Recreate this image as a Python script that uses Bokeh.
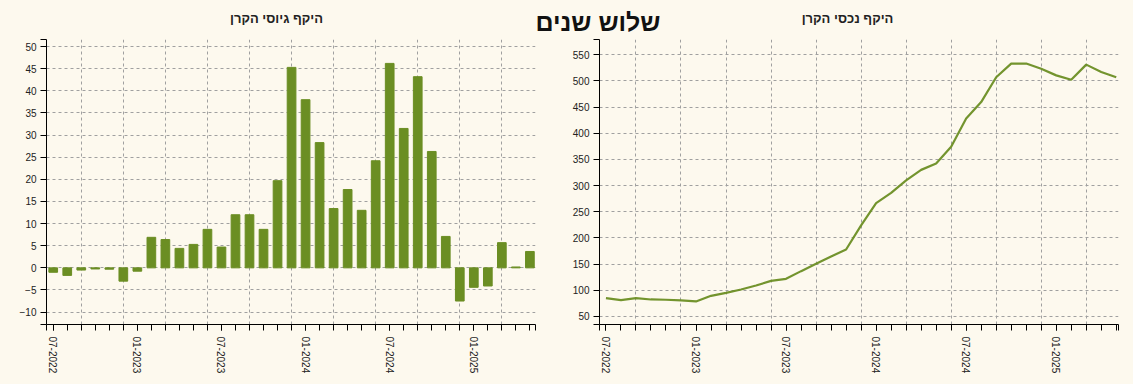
import math
from bokeh.plotting import figure
from bokeh.models import Range1d, FixedTicker
from bokeh.core.properties import value
from bokeh.layouts import row, column
from bokeh.embed import file_html
from bokeh.resources import INLINE

# ---- data ----
months = ["07-2022", "08-2022", "09-2022", "10-2022", "11-2022", "12-2022",
          "01-2023", "02-2023", "03-2023", "04-2023", "05-2023", "06-2023",
          "07-2023", "08-2023", "09-2023", "10-2023", "11-2023", "12-2023",
          "01-2024", "02-2024", "03-2024", "04-2024", "05-2024", "06-2024",
          "07-2024", "08-2024", "09-2024", "10-2024", "11-2024", "12-2024",
          "01-2025", "02-2025", "03-2025", "04-2025", "05-2025"]

raising = [-1.0, -1.7, -0.5, -0.25, -0.3, -3.0, -0.75, 6.9, 6.4, 4.4, 5.3, 8.7,
           4.7, 12.0, 12.0, 8.7, 19.7, 45.3, 38.0, 28.3, 13.4, 17.7, 13.0, 24.2,
           46.2, 31.5, 43.2, 26.3, 7.1, -7.5, -4.4, -4.1, 5.7, 0.2, 3.7]

assets = [85, 81.2, 85, 82.5, 82, 80.6, 78.7, 89.5, 95.2, 101.6, 109.2, 118,
          122, 136.6, 150.6, 164.6, 178, 224, 266.6, 286, 310, 330, 342, 374,
          428, 459.5, 507, 533, 533, 523, 510.5, 502, 531, 517, 507]

raising_ticks = list(range(-10, 51, 5))
assets_ticks = list(range(50, 551, 50))

main_title = "שלוש שנים"
left_title = "היקף גיוסי הקרן"
right_title = "היקף נכסי הקרן"

# ---- style ----
BG = "#fdf9ee"
GREEN = "#6b8e23"
FONT = "Liberation Sans"
TOTAL_W = 1133
TOP_H = 35

idx = list(range(len(months)))
label_idx = [i for i, m in enumerate(months) if m[:2] in ("01", "07")]
grid_idx = [i for i, m in enumerate(months) if int(m[:2]) % 3 == 0]
overrides = {i: months[i] for i in label_idx}


def make_fig(x_rng, y_rng, frame_w, bl, br, y_ticks):
    p = figure(frame_width=frame_w, frame_height=285,
               x_range=Range1d(*x_rng), y_range=Range1d(*y_rng),
               output_backend="svg", toolbar_location=None,
               min_border_left=bl, min_border_right=br,
               min_border_top=4, min_border_bottom=60,
               background_fill_color=BG, border_fill_color=BG,
               outline_line_color=None)
    xa = p.xaxis[0]
    xa.ticker = FixedTicker(ticks=label_idx, minor_ticks=idx + list(x_rng))
    xa.major_label_overrides = overrides
    xa.major_label_orientation = -math.pi / 2
    xa.major_tick_out = 6
    xa.major_tick_in = 0
    xa.minor_tick_out = 6
    xa.minor_tick_in = 0
    xa.minor_tick_line_color = "black"
    xa.major_tick_line_color = "black"
    xa.axis_line_color = "black"
    xa.major_label_text_font = FONT
    xa.major_label_text_font_size = "10px"
    xa.major_label_text_color = "#222222"
    xa.major_label_standoff = 6

    ya = p.yaxis[0]
    ya.ticker = FixedTicker(ticks=y_ticks, minor_ticks=list(y_rng))
    ya.major_tick_out = 6
    ya.major_tick_in = 0
    ya.minor_tick_out = 6
    ya.minor_tick_in = 0
    ya.minor_tick_line_color = "black"
    ya.major_tick_line_color = "black"
    ya.axis_line_color = "black"
    ya.major_label_text_font = FONT
    ya.major_label_text_font_size = "10px"
    ya.major_label_text_color = "#222222"
    ya.major_label_standoff = 4

    p.xgrid.ticker = FixedTicker(ticks=grid_idx)
    p.ygrid.ticker = FixedTicker(ticks=y_ticks)
    for g in (p.xgrid, p.ygrid):
        g.grid_line_color = "#a0a0a0"
        g.grid_line_dash = "3 3"
        g.grid_line_width = 1
    return p


# title strip across the top (data units == pixels)
top = figure(frame_width=TOTAL_W, frame_height=TOP_H,
             x_range=Range1d(0, TOTAL_W), y_range=Range1d(TOP_H, 0),
             output_backend="svg", toolbar_location=None,
             x_axis_location=None, y_axis_location=None,
             min_border_left=0, min_border_right=0, min_border_top=0, min_border_bottom=0,
             background_fill_color=BG, border_fill_color=BG, outline_line_color=None)
top.xgrid.visible = False
top.ygrid.visible = False
top.text(x=[276, 847], y=[18, 18], text=[left_title, right_title],
         text_align="center", text_baseline="middle",
         text_font=value(FONT), text_font_size="13px", text_font_style="bold",
         text_color="#222222")
top.text(x=[597.5], y=[21], text=[main_title],
         text_align="center", text_baseline="middle",
         text_font=value(FONT), text_font_size="25px", text_font_style="bold",
         text_color="#111111")

p1 = make_fig((-0.48, 34.4), (-12.8, 51.6), 489, 46, 2, raising_ticks)
p1.vbar(x=idx, top=raising, bottom=0, width=0.62, color=GREEN)

p2 = make_fig((-0.43, 34.15), (34.7, 579), 519, 62, 15, assets_ticks)
p2.line(x=idx, y=assets, line_color=GREEN, line_width=2.2, line_alpha=0.95)

bg_style = {"background-color": BG}
layout = column(top, row(p1, p2, styles=bg_style), styles=bg_style)
open("out.html", "w").write(file_html(layout, INLINE))
